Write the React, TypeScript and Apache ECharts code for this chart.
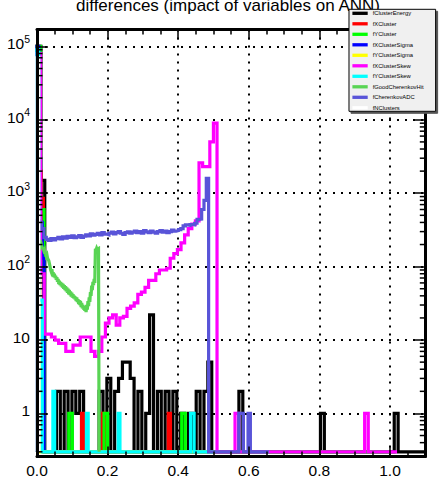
import React, { useEffect, useRef } from 'react';
import * as echarts from 'echarts';

const W = 441;
const H = 478;
const FONT = 'Liberation Sans';

// axes
const X_MIN = 0;
const X_MAX = 1.1;
const X_INTERVAL = 0.2;
const Y_MIN = 0.259;
const Y_MAX = 170000;
const ZERO_LEVEL = 0.3; // where empty bins are drawn on the log axis
const xTickLabels = ['0.0', '0.2', '0.4', '0.6', '0.8', '1.0'];
const yDecadeExponents = [0, 1, 2, 3, 4, 5];
const yMinorMantissas = [2, 3, 4, 5, 6, 7, 8, 9];
const yMinorDecades = [-1, 0, 1, 2, 3, 4, 5];

const titleText = 'differences (impact of variables on ANN)';

const seriesNames = [
  'fClusterEnergy', 'fXCluster', 'fYCluster', 'fXClusterSigma', 'fYClusterSigma',
  'fXClusterSkew', 'fYClusterSkew', 'fGoodCherenkovHit', 'fCherenkovADC', 'fNClusters',
];
const seriesColors = [
  '#000000', '#ff0000', '#00ff00', '#0000ff', '#ffff00',
  '#ff00ff', '#00ffff', '#59d454', '#5954d8', '#ffffff',
];
// bin width of each histogram (each has its own range)
const binWidths = [0.011, 0.006, 0.01, 0.005, 0.005, 0.0102, 0.005, 0.00176, 0.00657, 0.005];

const fClusterEnergy = [
  100000, 1500, 0, 0, 0, 2, 0, 2, 0, 2,
  1, 2, 0, 0, 0, 0, 2, 0, 3, 0,
  2, 3, 5, 5, 3, 0, 2, 0, 1, 22,
  0, 2, 0, 2, 0, 2, 0, 1, 0, 1,
  0, 2, 0, 2, 5, 0, 0, 0, 0, 0,
  0, 0, 2, 0, 0, 0, 0, 0, 0, 0,
  0, 0, 0, 0, 0, 0, 0, 0, 0, 0,
  0, 0, 0, 1, 0, 0, 0, 0, 0, 0,
  0, 0, 0, 0, 0, 0, 0, 0, 0, 0,
  0, 0, 1, 0, 0, 0, 0, 0, 0, 0,
];
const fXCluster = [
  100000, 2000, 850, 0, 0, 0, 0, 0, 0, 0,
  0, 0, 0, 0, 0, 0, 0, 0, 0, 0,
  0, 1, 0, 0, 0, 0, 0, 0, 0, 0,
  0, 1, 0, 0, 0, 0, 0, 0, 0, 0,
  0, 0, 0, 0, 0, 0, 0, 0, 0, 0,
  0, 0, 0, 0, 0, 0, 0, 0, 0, 0,
  0, 0, 1, 0, 0, 0, 0, 0, 0, 0,
  0, 0, 0, 0, 0, 0, 0, 0, 0, 0,
  0, 0, 0, 0, 0, 0, 0, 0, 0, 0,
  0, 0, 0, 0, 0, 0, 0, 0, 0, 0,
];
const fYCluster = [
  100000, 600, 0, 0, 0, 0, 0, 0, 0, 1,
  0, 0, 0, 0, 0, 0, 0, 0, 0, 1,
  0, 0, 0, 0, 0, 0, 0, 0, 0, 0,
  0, 0, 0, 0, 0, 0, 0, 0, 0, 0,
  0, 1, 0, 0, 0, 0, 0, 0, 0, 0,
  0, 0, 0, 0, 0, 0, 0, 0, 0, 0,
  0, 0, 0, 0, 0, 0, 0, 0, 0, 0,
  0, 0, 0, 0, 0, 0, 0, 0, 0, 0,
  0, 0, 0, 0, 0, 0, 0, 0, 0, 0,
  0, 0, 0, 0, 0, 0, 0, 0, 0, 0,
];
const fXClusterSigma = [
  100000, 3000, 400, 130, 0, 0, 0, 0, 0, 0,
  0, 0, 0, 0, 0, 0, 0, 0, 0, 0,
  0, 0, 0, 0, 0, 0, 0, 0, 0, 0,
  0, 0, 0, 0, 0, 0, 0, 0, 0, 0,
  0, 0, 0, 0, 0, 0, 0, 0, 0, 0,
  0, 0, 0, 0, 0, 0, 0, 0, 0, 0,
  0, 0, 0, 0, 0, 0, 0, 0, 0, 0,
  0, 0, 0, 0, 0, 0, 0, 0, 0, 0,
  0, 0, 0, 0, 0, 0, 0, 0, 0, 0,
  0, 0, 0, 0, 0, 0, 0, 0, 0, 0,
];
const fYClusterSigma = [
  70000, 0, 0, 0, 0, 0, 0, 0, 0, 0,
  0, 0, 0, 0, 0, 0, 0, 0, 0, 0,
  0, 0, 0, 0, 0, 0, 0, 0, 0, 0,
  0, 0, 0, 0, 0, 0, 0, 0, 0, 0,
  0, 0, 0, 0, 0, 0, 0, 0, 0, 0,
  0, 0, 0, 0, 0, 0, 0, 0, 0, 0,
  0, 0, 0, 0, 0, 0, 0, 0, 0, 0,
  0, 0, 0, 0, 0, 0, 0, 0, 0, 0,
  0, 0, 0, 0, 0, 0, 0, 0, 0, 0,
  0, 0, 0, 0, 0, 0, 0, 0, 0, 0,
];
const fXClusterSkew = [
  80000, 80, 12, 12, 11, 10, 9, 9, 7, 7,
  8.5, 8.5, 11, 11, 11, 7, 6, 7, 11, 17,
  20, 22, 16, 20, 21, 27, 29, 32, 42, 45,
  52, 65, 65, 80, 90, 90, 95, 130, 150, 170,
  210, 270, 330, 380, 420, 2600, 2300, 2300, 5000, 9000,
  0, 0, 0, 0, 0, 1, 0, 0, 0, 0,
  0, 0, 0, 0, 0, 0, 0, 0, 0, 0,
  0, 0, 0, 0, 0, 0, 0, 0, 0, 0,
  0, 0, 0, 0, 0, 0, 0, 0, 0, 0,
  0, 1, 0, 0, 0, 0, 0, 0, 0, 0,
];
const fYClusterSkew = [
  90000, 35, 35, 0, 0, 0, 0, 0, 0, 2,
  0, 0, 0, 0, 0, 0, 0, 0, 0, 0,
  0, 0, 0, 0, 0, 0, 0, 0, 1, 0,
  0, 0, 0, 0, 0, 0, 0, 0, 0, 0,
  0, 0, 0, 0, 0, 0, 1, 0, 0, 0,
  0, 0, 0, 0, 0, 0, 0, 0, 0, 0,
  0, 0, 0, 0, 0, 0, 0, 0, 0, 0,
  0, 0, 0, 0, 0, 0, 0, 0, 0, 0,
  0, 0, 0, 0, 0, 0, 0, 1, 1, 0,
  0, 0, 0, 0, 0, 0, 0, 0, 0, 0,
];
const fGoodCherenkovHit = [
  210, 220, 200, 215, 195, 205, 190, 200, 185, 180,
  175, 165, 170, 150, 160, 140, 145, 130, 125, 120,
  110, 100, 90, 85, 92, 78, 84, 72, 80, 70,
  75, 66, 72, 62, 68, 58, 64, 56, 62, 54,
  60, 52, 58, 50, 56, 48, 54, 46, 52, 44,
  50, 42, 48, 41, 46, 39, 44, 38, 42, 37,
  40, 36, 39, 34, 38, 33, 36, 31, 35, 30,
  34, 28, 32, 27, 30, 26, 29, 25, 28, 24,
  30, 26, 34, 29, 38, 33, 45, 40, 55, 48,
  62, 56, 68, 60, 175, 168, 178, 170, 174, 176,
];
const fCherenkovADC = [
  420, 400, 330, 250, 235, 228, 240, 232, 240, 250,
  238, 255, 245, 258, 250, 262, 248, 255, 265, 250,
  260, 270, 262, 280, 268, 275, 285, 270, 290, 278,
  272, 285, 295, 280, 290, 300, 285, 275, 290, 298,
  285, 295, 305, 290, 300, 285, 310, 298, 290, 305,
  295, 285, 300, 310, 295, 305, 290, 300, 315, 305,
  310, 320, 330, 360, 370, 365, 375, 370, 390, 440,
  445, 600, 800, 1600, 0, 0, 0, 0, 0, 0,
  0, 0, 0, 0, 0, 0, 0, 1, 1, 0,
  0, 1, 0, 0, 0, 0, 0, 0, 0, 0,
];
const fNClusters = [70000];

const allCounts = [
  fClusterEnergy, fXCluster, fYCluster, fXClusterSigma, fYClusterSigma,
  fXClusterSkew, fYClusterSkew, fGoodCherenkovHit, fCherenkovADC, fNClusters,
];

// histogram outline points (bin low edges, closed to the baseline at both ends)
function outline(counts: number[], bw: number) {
  const lvl = (c: number) => (c > 0 ? c : ZERO_LEVEL);
  const pts: number[][] = [[0, ZERO_LEVEL]];
  counts.forEach((c, i) => pts.push([i * bw, lvl(c)]));
  const n = counts.length;
  pts.push([n * bw, lvl(counts[n - 1])]);
  pts.push([n * bw, ZERO_LEVEL]);
  return pts;
}

const yMinorTickValues: number[] = [];
yMinorDecades.forEach((d) =>
  yMinorMantissas.forEach((m) => {
    const v = m * Math.pow(10, d);
    if (v > Y_MIN && v < Y_MAX) yMinorTickValues.push(v);
  })
);

function xLabel(v: number) {
  const i = Math.round(v / X_INTERVAL);
  if (Math.abs(v - i * X_INTERVAL) > 1e-6 || i >= xTickLabels.length) return '';
  return xTickLabels[i];
}
function yLabel(v: number) {
  const l = Math.log10(v);
  const e = Math.round(l);
  if (Math.abs(l - e) > 1e-6 || yDecadeExponents.indexOf(e) < 0) return '';
  if (e === 0) return '{b|1}';
  if (e === 1) return '{b|10}';
  return '{b|10}{s|' + e + '}';
}

const frameLine = { show: true, onZero: false, lineStyle: { color: '#000', width: 3 } };
const dotted = { show: true, lineStyle: { color: '#000', width: 2, type: [2, 6] } };

const histSeries = seriesNames.map((name, k) => ({
  name,
  type: 'line',
  step: 'end',
  data: outline(allCounts[k], binWidths[k]),
  xAxisIndex: 0,
  yAxisIndex: 0,
  showSymbol: false,
  symbol: 'none',
  color: seriesColors[k],
  itemStyle: { color: seriesColors[k] },
  lineStyle: { color: seriesColors[k], width: 3.2, join: 'miter', cap: 'butt' },
  emphasis: { disabled: true },
  silent: true,
  z: 2,
}));

const option = {
  animation: false,
  backgroundColor: '#ffffff',
  textStyle: { fontFamily: FONT },
  title: {
    text: titleText,
    left: 76,
    top: -3.5,
    padding: 0,
    textStyle: { fontSize: 17, fontWeight: 'normal', color: '#000', fontFamily: FONT },
  },
  legend: {
    data: seriesNames,
    orient: 'vertical',
    left: 349,
    top: 9.3,
    padding: [0.5, 12, 0, 3.4],
    itemWidth: 15.3,
    itemHeight: 3.3,
    itemGap: 3.5,
    icon: 'rect',
    selectedMode: false,
    backgroundColor: '#f0f0f0',
    borderColor: '#000',
    borderWidth: 1,
    shadowColor: '#555',
    shadowOffsetX: 2,
    shadowOffsetY: 2,
    shadowBlur: 0,
    itemStyle: { borderWidth: 0 },
    textStyle: { fontSize: 5.8, lineHeight: 7, color: '#000', fontFamily: FONT },
    z: 10,
  },
  grid: { left: 37, right: 15.7, top: 29.5, bottom: 21.5, containLabel: false, outerBoundsMode: 'none' },
  xAxis: [
    {
      type: 'value', position: 'bottom', min: X_MIN, max: X_MAX, interval: X_INTERVAL, z: 3,
      axisLine: frameLine,
      axisTick: { show: true, inside: true, length: 10, lineStyle: { color: '#000', width: 1.5 } },
      minorTick: { show: true, splitNumber: 4, length: 5, lineStyle: { color: '#000', width: 1.5 } },
      splitLine: { show: false },
      axisLabel: { show: true, margin: 6.4, fontSize: 15.5, color: '#000', fontFamily: FONT, formatter: xLabel, showMaxLabel: false },
    },
    {
      type: 'value', position: 'top', min: X_MIN, max: X_MAX, interval: X_INTERVAL, z: 3,
      axisLine: frameLine,
      axisTick: { show: true, inside: true, length: 10, lineStyle: { color: '#000', width: 1.5 } },
      minorTick: { show: true, splitNumber: 4, length: 5, lineStyle: { color: '#000', width: 1.5 } },
      splitLine: { show: false },
      axisLabel: { show: false },
    },
    {
      type: 'value', position: 'bottom', min: X_MIN, max: X_MAX, interval: X_INTERVAL, z: 0,
      axisLine: { show: false }, axisTick: { show: false }, axisLabel: { show: false },
      splitLine: dotted,
    },
  ],
  yAxis: [
    {
      type: 'log', logBase: 10, position: 'left', min: Y_MIN, max: Y_MAX, z: 3,
      axisLine: frameLine,
      axisTick: { show: true, inside: true, length: 11, lineStyle: { color: '#000', width: 1.5 } },
      splitLine: { show: false },
      axisLabel: {
        show: true, margin: 7, color: '#000', fontFamily: FONT, formatter: yLabel,
        rich: {
          b: { fontSize: 15.5, lineHeight: 16, padding: [0, 0, 2.5, 0], verticalAlign: 'bottom', color: '#000', fontFamily: FONT },
          s: { fontSize: 10.5, lineHeight: 10.5, padding: [0, 0, 10, 0], verticalAlign: 'bottom', color: '#000', fontFamily: FONT },
        },
      },
    },
    {
      type: 'log', logBase: 10, position: 'right', min: Y_MIN, max: Y_MAX, z: 3,
      axisLine: frameLine,
      axisTick: { show: true, inside: true, length: 11, lineStyle: { color: '#000', width: 1.5 } },
      splitLine: { show: false },
      axisLabel: { show: false },
    },
    {
      type: 'log', logBase: 10, position: 'left', min: Y_MIN, max: Y_MAX, z: 0,
      axisLine: { show: false }, axisTick: { show: false }, axisLabel: { show: false },
      splitLine: dotted,
    },
  ],
  series: [
    ...histSeries,
    {
      type: 'custom',
      name: 'yMinorTicks',
      xAxisIndex: 0,
      yAxisIndex: 0,
      z: 3,
      silent: true,
      clip: false,
      data: yMinorTickValues.map((v) => [0, v]),
      encode: { x: 0, y: 1 },
      renderItem: (params: any, api: any) => {
        const y = api.coord([0, api.value(1)])[1];
        const cs = params.coordSys;
        const st = { stroke: '#000', lineWidth: 1.5 };
        return {
          type: 'group',
          children: [
            { type: 'line', shape: { x1: cs.x, y1: y, x2: cs.x + 5.5, y2: y }, style: st },
            { type: 'line', shape: { x1: cs.x + cs.width - 5.5, y1: y, x2: cs.x + cs.width, y2: y }, style: st },
          ],
        };
      },
    },
  ],
};

export default function App() {
  const ref = useRef<HTMLDivElement>(null);
  useEffect(() => {
    if (!ref.current) return;
    const chart = echarts.init(ref.current, null, { renderer: 'svg', width: W, height: H });
    chart.setOption(option as any);
    return () => chart.dispose();
  }, []);
  return <div ref={ref} style={{ position: 'absolute', left: 0, top: 0, width: W, height: H }} />;
}
